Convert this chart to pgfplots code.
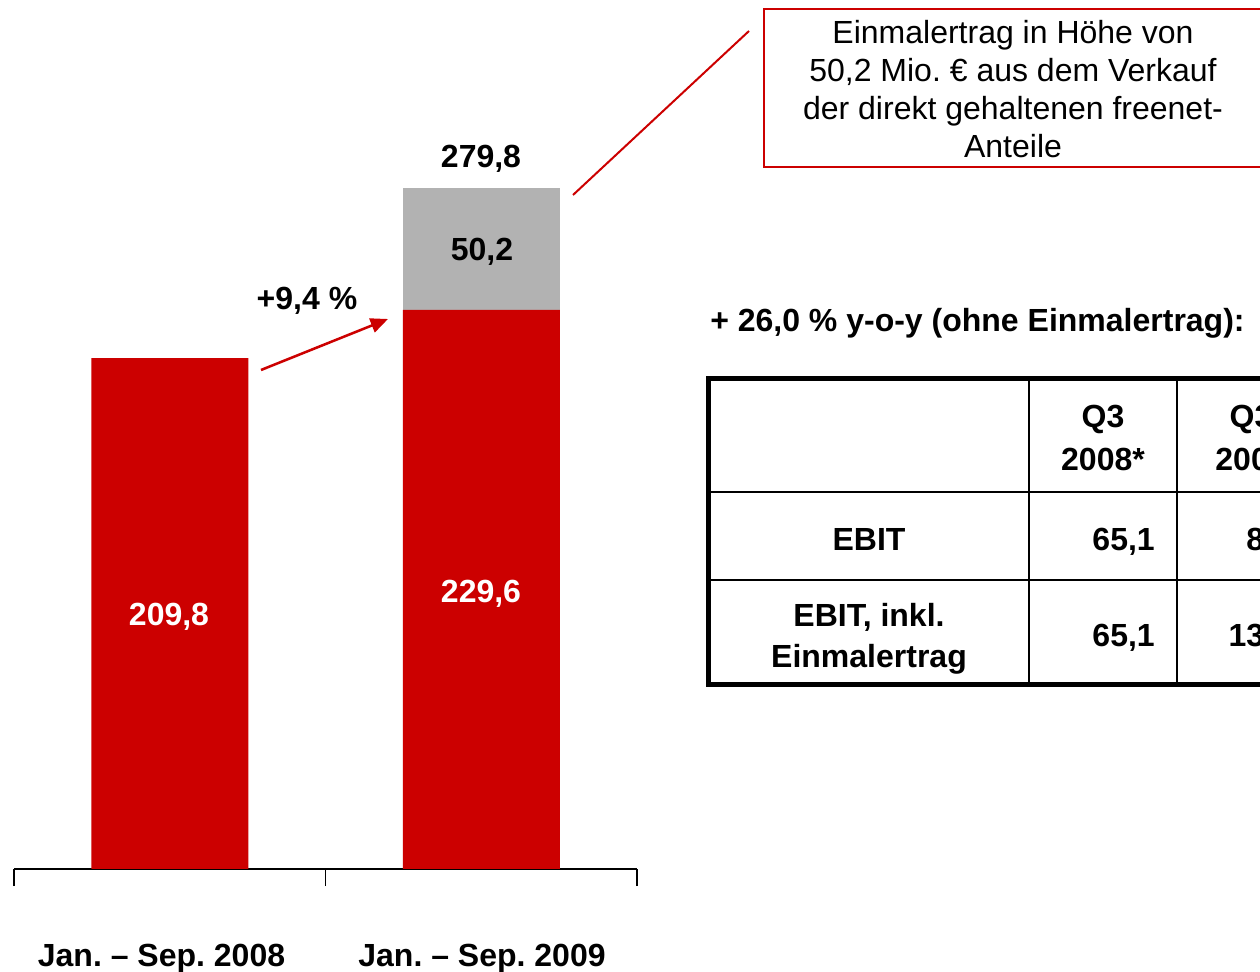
\documentclass[border=0pt]{standalone}
\usepackage{pgfplots}
\pgfplotsset{compat=1.18}
\usetikzlibrary{arrows.meta}
\usepackage{fontspec}
\setmainfont{Liberation Sans}
\frenchspacing
\definecolor{barred}{HTML}{CC0000}
\definecolor{bargray}{HTML}{B2B2B2}
\newcommand\bigf{\fontsize{24}{28.5}\selectfont}
\begin{document}
\begin{tikzpicture}[x=0.75pt,y=0.75pt]
\path[use as bounding box] (0,0) rectangle (1260,971);
\clip (0,0) rectangle (1260,971);
\begin{axis}[at={(10.5pt,76.5pt)}, anchor=south west, scale only axis,
  width=467.25pt, height=639.19pt,
  xmin=-0.5, xmax=1.5, ymin=0, ymax=350,
  axis y line=none, axis x line*=bottom,
  xtick={-0.5,0.5,1.5}, xticklabels={}, ytick=\empty,
  tick align=outside, major tick length=12.75pt,
  axis line style={black,line width=1pt},
  every tick/.style={black,line width=1pt},
  ybar stacked, bar width=0.504, clip=false]
\addplot[fill=barred, draw=none] coordinates {(0,209.8) (1,229.6)};
\addplot[fill=bargray, draw=none] coordinates {(0,0) (1,50.2)};
\end{axis}
% bar labels
\node[font=\bigf\bfseries, text=white, anchor=base] at (169,345.5) {209,8};
\node[font=\bigf\bfseries, text=white, anchor=base] at (481,368.5) {229,6};
\node[font=\bigf\bfseries, text=black, anchor=base] at (482,710.5) {50,2};
\node[font=\bigf\bfseries, text=black, anchor=base] at (481,803) {279,8};
% category labels
\node[font=\bigf\bfseries, anchor=base] at (161.5,5) {Jan. -- Sep. 2008};
\node[font=\bigf\bfseries, anchor=base] at (482,5) {Jan. -- Sep. 2009};
% growth arrow
\node[font=\bigf\bfseries, anchor=base] at (307,661) {+9,4 \%};
\draw[barred, line width=1.9pt, -{Triangle[length=13pt,width=11pt]}] (261,601) -- (388,652);
% callout
\draw[barred, line width=1.5pt] (573,776) -- (749,940);
\draw[barred, line width=1.5pt] (764,962) rectangle (1262,804);
\node[font=\bigf, anchor=base] at (1013,927) {Einmalertrag in Höhe von};
\node[font=\bigf, anchor=base] at (1013,889) {50,2 Mio.~€ aus dem Verkauf};
\node[font=\bigf, anchor=base] at (1013,851) {der direkt gehaltenen freenet-};
\node[font=\bigf, anchor=base] at (1013,813) {Anteile};
% y-o-y text
\node[font=\bigf\bfseries, anchor=base west, inner sep=0pt] at (710,639) {+ 26,0 \% y-o-y (ohne Einmalertrag):};
% table
\draw[black, line width=1.9pt] (1029,592.5) -- (1029,286.5);
\draw[black, line width=1.9pt] (1177,592.5) -- (1177,286.5);
\draw[black, line width=1.9pt] (708.5,479) -- (1400,479);
\draw[black, line width=1.9pt] (708.5,391) -- (1400,391);
\draw[black, line width=3.4pt] (1400,592.5) -- (708.5,592.5) -- (708.5,286.5) -- (1400,286.5);
\node[font=\bigf\bfseries, anchor=base] at (1103,543.5) {Q3};
\node[font=\bigf\bfseries, anchor=base] at (1103,500.5) {2008*};
\node[font=\bigf\bfseries, anchor=base] at (1251,543.5) {Q3};
\node[font=\bigf\bfseries, anchor=base] at (1251,500.5) {2009};
\node[font=\bigf\bfseries, anchor=base] at (869,420.5) {EBIT};
\node[font=\bigf\bfseries, anchor=base east, inner sep=0pt] at (1155,420.5) {65,1};
\node[font=\bigf\bfseries, anchor=base east, inner sep=0pt] at (1309,420.5) {82,0};
\node[font=\bigf\bfseries, anchor=base] at (869,344.5) {EBIT, inkl.};
\node[font=\bigf\bfseries, anchor=base] at (869,303) {Einmalertrag};
\node[font=\bigf\bfseries, anchor=base east, inner sep=0pt] at (1155,324.5) {65,1};
\node[font=\bigf\bfseries, anchor=base east, inner sep=0pt] at (1309,324.5) {132,2};
\end{tikzpicture}
\end{document}
